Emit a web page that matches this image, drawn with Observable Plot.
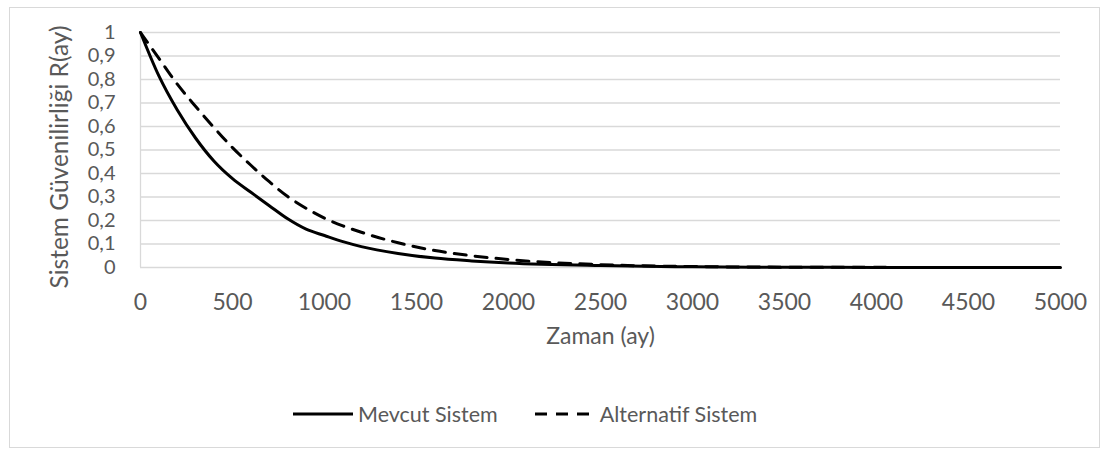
<!DOCTYPE html>
<html>
<head>
<meta charset="utf-8">
<script src="https://cdn.jsdelivr.net/npm/d3@7"></script>
<script src="https://cdn.jsdelivr.net/npm/@observablehq/plot@0.6"></script>
<style>
  body { margin: 0; background: #fff; font-family: Lato, "Open Sans", sans-serif; }
  #frame { position: absolute; left: 9px; top: 7px; width: 1091px; height: 441px; border: 1px solid #d9d9d9; box-sizing: border-box; background: #fff; }
  #chart { position: absolute; left: 0; top: 0; }
  #legend { position: absolute; left: 283px; top: 393px; display: flex; align-items: center; gap: 37px; color: #595959; font-size: 21.5px; white-space: nowrap; }
  .item { display: flex; align-items: center; gap: 5px; }
</style>
</head>
<body>
<div id="frame">
  <div id="chart"></div>
  <div id="legend"></div>
</div>
<script>
const months = [0, 100, 200, 300, 400, 500, 600, 700, 800, 900, 1000, 1100, 1200, 1400, 1600, 1800, 2000, 2500, 3000, 3500, 4000, 4500, 5000];
const mevcut = [1, 0.815, 0.67, 0.55, 0.452, 0.378, 0.32, 0.263, 0.207, 0.163, 0.136, 0.11, 0.089, 0.06, 0.04, 0.028, 0.019, 0.008, 0.003, 0.001, 0.0005, 0.0002, 0.0001];
const alternatif = [1, 0.89, 0.78, 0.685, 0.595, 0.51, 0.435, 0.365, 0.302, 0.252, 0.21, 0.177, 0.15, 0.105, 0.072, 0.05, 0.034, 0.012, 0.004, 0.0015, 0.0006, 0.0003, 0.0001];
const seriesNames = ["Mevcut Sistem", "Alternatif Sistem"];
const xTicks = [0, 500, 1000, 1500, 2000, 2500, 3000, 3500, 4000, 4500, 5000];
const yTicks = [0, 0.1, 0.2, 0.3, 0.4, 0.5, 0.6, 0.7, 0.8, 0.9, 1];
const xLabel = "Zaman (ay)";
const yLabel = "Sistem Güvenilirliği R(ay)";

const dashes = ["none", "12,9"];
const rows = [];
months.forEach((m, i) => {
  rows.push({t: m, r: mevcut[i], s: seriesNames[0]});
  rows.push({t: m, r: alternatif[i], s: seriesNames[1]});
});
const fmt = d => (d === 0 || d === 1) ? String(d) : d.toFixed(1).replace(".", ",");

const plot = Plot.plot({
  width: 1089,
  height: 360,
  marginLeft: 130,
  marginRight: 39,
  marginTop: 24,
  marginBottom: 101,
  style: { fontFamily: "Lato, 'Open Sans', sans-serif", fontSize: "23px", color: "#595959", background: "#fff", overflow: "visible" },
  x: { domain: [0, 5000], label: null },
  y: { domain: [0, 1], label: null },
  marks: [
    Plot.ruleY(yTicks, { stroke: "#d9d9d9", strokeWidth: 1.3 }),
    Plot.ruleX([0], { stroke: "#d9d9d9", strokeWidth: 1.3 }),
    Plot.axisX({ ticks: xTicks, tickFormat: d => String(d), tickSize: 0, tickPadding: 26, fill: "#595959", fontSize: 23, label: null }),
    Plot.axisY({ ticks: yTicks, tickFormat: fmt, tickSize: 0, tickPadding: 25, fill: "#595959", fontSize: 20, label: null }),
    Plot.text([xLabel], { frameAnchor: "bottom", dy: 76, fill: "#595959", fontSize: 23 }),
    Plot.text([yLabel], { frameAnchor: "left", dx: -80, dy: 7, rotate: -90, textAnchor: "middle", fill: "#595959", fontSize: 24.5 }),
    ...seriesNames.map((name, i) => Plot.line(rows.filter(d => d.s === name), {
      x: "t", y: "r", stroke: "#000", strokeWidth: 3, strokeDasharray: dashes[i], curve: "monotone-x"
    }))
  ]
});
document.getElementById("chart").appendChild(plot);

const legend = document.getElementById("legend");
seriesNames.forEach((name, i) => {
  const item = document.createElement("div");
  item.className = "item";
  item.innerHTML = `<svg width="60" height="10"><line x1="0" y1="5" x2="60" y2="5" stroke="#000" stroke-width="3" ${dashes[i] === "none" ? "" : `stroke-dasharray="${dashes[i]}"`}/></svg><span>${name}</span>`;
  legend.appendChild(item);
});
</script>
</body>
</html>
